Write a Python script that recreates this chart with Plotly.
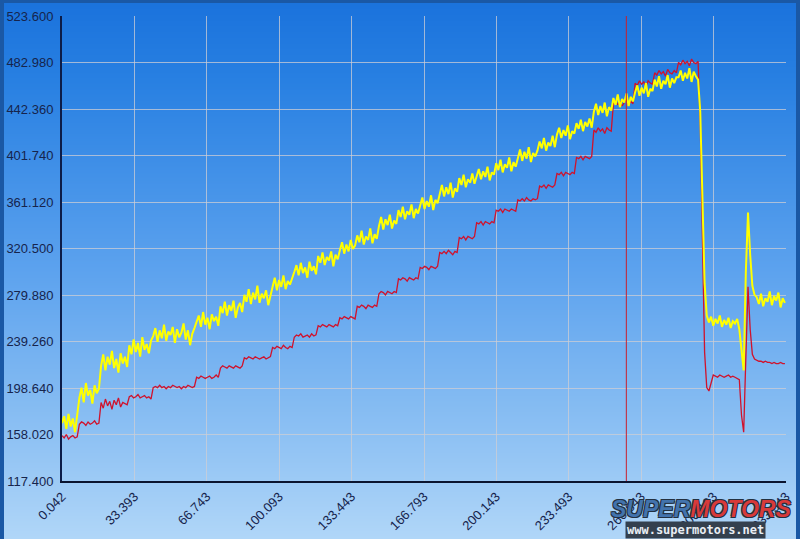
import base64
import struct
import zlib

import numpy as np
import plotly.graph_objects as go

# ---------------- data ----------------
yellow_values = [
    168, 174, 163, 176, 165, 172, 160, 175,
    190, 199, 186, 203, 192, 197, 185, 201, 194, 198,
    218, 228, 214, 226, 219, 231, 216, 224, 212, 229, 220, 226, 217,
    236, 228, 241, 230, 238, 226, 243, 232, 237, 229, 240,
    244, 251, 239, 249, 242, 254, 240, 248, 245, 252, 238, 250, 243, 247, 255, 241, 249, 236, 246, 251,
    256, 262, 252, 265, 254, 260, 250, 263, 257, 261, 253,
    270, 264, 274, 262, 271, 266, 275, 260, 269, 273, 265,
    280, 274, 285, 272, 282, 276, 288, 273, 281, 277, 284, 271, 279,
    288, 295, 284, 293, 287, 297, 285, 292, 289, 294,
    300, 306, 297, 308, 299, 304, 295, 309, 301, 305, 298,
    314, 308, 317, 306, 313, 310, 318, 305, 315, 311,
    319, 326, 316, 324, 318, 328, 320, 323,
    332, 326, 336, 324, 331, 328, 338, 325, 333, 329,
    340, 348, 337, 346, 341, 350, 338, 345, 342,
    354, 348, 357, 346, 353, 350, 359, 347, 355, 351,
    358, 365, 355, 362, 357, 367, 354, 363, 360,
    369, 376, 366, 374, 368, 378, 365, 373, 370,
    382, 376, 385, 374, 381, 378, 386, 377,
    384, 390, 381, 388, 383, 392, 380, 387, 385,
    395, 389, 398, 387, 394, 391, 400, 388, 396, 392,
    400, 407, 397, 405, 399, 409, 396, 404, 401, 406,
    414, 408, 417, 406, 413, 410, 419, 409,
    420, 426, 417, 424, 419, 428, 416, 423, 421,
    430, 425, 433, 423, 431, 427, 434, 426,
    440, 447, 437, 445, 439, 448, 436, 444, 441,
    452, 446, 455, 444, 451, 448, 456, 445, 453, 449,
    457, 463, 454, 461, 456, 465, 453, 460, 458,
    468, 462, 471, 460, 467, 464, 472, 461, 469, 465, 470,
    470, 476, 467, 474, 469, 478, 466, 475, 471, 468,
    440, 360, 290, 262,
    256, 261, 253, 259, 255, 262, 252, 258, 254, 260, 251, 257, 255, 259,
    250, 232, 214, 300, 352, 315, 288, 280,
    278, 272, 281, 270, 277, 274, 283, 271, 279, 275, 282, 269, 277, 273,
]

red_values = [
    157, 155, 158, 154, 156, 157, 155, 156,
    167, 169, 168, 166, 169, 167, 168, 170, 167, 168,
    186, 181, 189, 183, 187, 180, 188, 184, 190, 182, 186, 185, 184,
    191, 192, 190, 191, 193, 190, 191, 192, 190, 191, 189,
    199, 200, 199, 201, 199, 200, 198, 200, 199, 201, 200, 199, 200, 198, 200, 199, 201, 200, 199, 200,
    208, 207, 209, 208, 207, 208, 209, 207, 208, 210, 208,
    216, 218, 217, 216, 218, 217, 216, 218, 217, 216, 218,
    225, 224, 226, 225, 224, 226, 225, 224, 225, 226, 224, 225, 226,
    234, 233, 235, 234, 233, 236, 234, 233, 235, 234,
    243, 245, 244, 246, 243, 244, 245, 243, 246, 244, 245,
    253, 252, 254, 253, 252, 254, 253, 252, 254, 253,
    260, 259, 261, 260, 259, 261, 260, 259,
    270, 269, 271, 270, 268, 271, 270, 269, 271, 270,
    281, 283, 282, 280, 283, 282, 281, 283, 282,
    294, 293, 295, 294, 292, 295, 294, 293, 295, 294,
    304, 303, 305, 304, 302, 305, 304, 303, 305,
    317, 316, 318, 316, 319, 317, 315, 318, 317,
    330, 329, 331, 328, 331, 330, 329, 331,
    343, 342, 344, 341, 344, 343, 342, 344, 343,
    354, 353, 355, 352, 355, 354, 353, 355, 354, 353,
    363, 362, 364, 362, 365, 363, 362, 364, 363, 364,
    375, 374, 376, 373, 376, 375, 374, 376,
    386, 385, 387, 384, 387, 386, 385, 387, 386,
    400, 399, 401, 398, 401, 400, 399, 401,
    424, 422, 426, 423, 425, 421, 426, 424, 423,
    447, 450, 446, 449, 445, 448, 451, 446, 449, 447,
    465, 463, 467, 464, 466, 462, 467, 465, 464,
    474, 472, 476, 473, 475, 471, 477, 474, 473, 476, 474,
    483, 481, 485, 482, 484, 480, 486, 483, 482, 484,
    430, 330, 230, 199,
    196, 203, 210, 209, 208, 210, 209, 208, 209, 210, 208, 209, 208, 207,
    206, 175, 160, 225, 287, 250, 228, 224,
    223, 222, 222, 221, 222, 221, 221, 220, 221, 220, 220, 221, 220, 220,
]

sample_time = np.arange(len(yellow_values)) * 1.0 + 0.042
cursor_time = 260.0

x_tick_values = [0.042, 33.393, 66.743, 100.093, 133.443, 166.793,
                 200.143, 233.493, 266.843, 300.193, 333.543]
x_tick_labels = ["0.042", "33.393", "66.743", "100.093", "133.443", "166.793",
                 "200.143", "233.493", "266.843", "300.193", "333.543"]
y_tick_values = [117.4, 158.02, 198.64, 239.26, 279.88, 320.5,
                 361.12, 401.74, 442.36, 482.98, 523.6]
y_tick_labels = ["117.400", "158.020", "198.640", "239.260", "279.880", "320.500",
                 "361.120", "401.740", "442.360", "482.980", "523.600"]

# ---------------- background gradient image ----------------
W, H = 800, 539
stops = [(0.0, (26, 114, 220)), (0.15, (40, 128, 226)), (0.5, (92, 162, 238)),
         (0.8, (140, 192, 243)), (1.0, (176, 214, 248))]


def grad(f):
    for (f0, c0), (f1, c1) in zip(stops[:-1], stops[1:]):
        if f <= f1:
            t = (f - f0) / (f1 - f0)
            return tuple(int(round(a + (b - a) * t)) for a, b in zip(c0, c1))
    return stops[-1][1]


border = bytes((26, 88, 165))
raw = bytearray()
for r in range(H):
    c = bytes(grad(r / (H - 1)))
    raw.append(0)
    if r < 3:
        raw += border * W
    else:
        raw += border * 4 + c * (W - 8) + border * 4


def chunk(tag, data):
    return struct.pack(">I", len(data)) + tag + data + struct.pack(">I", zlib.crc32(tag + data) & 0xffffffff)


png = (b"\x89PNG\r\n\x1a\n" + chunk(b"IHDR", struct.pack(">IIBBBBB", W, H, 8, 2, 0, 0, 0))
       + chunk(b"IDAT", zlib.compress(bytes(raw), 9)) + chunk(b"IEND", b""))
bg_uri = "data:image/png;base64," + base64.b64encode(png).decode()

ML, MR, MT, MB = 62, 14, 16, 58
PW, PH = W - ML - MR, H - MT - MB

# ---------------- figure ----------------
fig = go.Figure()
fig.add_trace(go.Scatter(x=sample_time, y=red_values, mode="lines",
                         line=dict(color="#d0122c", width=1.3), showlegend=False))
fig.add_trace(go.Scatter(x=sample_time, y=yellow_values, mode="lines",
                         line=dict(color="#ffff00", width=2.0), showlegend=False))

fig.add_vline(x=cursor_time, line=dict(color="#c8202e", width=1))

fig.add_layout_image(dict(source=bg_uri, xref="paper", yref="paper",
                          x=-ML / PW, y=1 + MT / PH, sizex=W / PW, sizey=H / PH,
                          xanchor="left", yanchor="top", sizing="stretch", layer="below"))

fig.add_annotation(xref="paper", yref="paper", x=(701 - ML) / PW, y=1 - (509 - MT) / PH,
                   xanchor="center", yanchor="middle",
                   text="<b><i><span style='color:#4273ad'>SUPER</span>"
                        "<span style='color:#d83a3a'>MOTORS</span></i></b>",
                   showarrow=False,
                   font=dict(family="Liberation Sans", size=23,
                             shadow="1px 1px 0 #233040, -1px -1px 0 #233040, 1px -1px 0 #233040, -1px 1px 0 #233040"))
fig.add_annotation(xref="paper", yref="paper", x=(695 - ML) / PW, y=1 - (530 - MT) / PH,
                   xanchor="center", yanchor="middle",
                   text="<b>www.supermotors.net</b>", showarrow=False,
                   bgcolor="#34404e", borderpad=1,
                   font=dict(family="DejaVu Sans Mono", size=12, color="#e8eef4"))

fig.update_layout(
    width=W, height=H,
    margin=dict(l=ML, r=MR, t=MT, b=MB, autoexpand=False),
    paper_bgcolor="#5aa0ee", plot_bgcolor="rgba(0,0,0,0)",
    font=dict(family="Liberation Sans", size=13, color="#16244c"),
    xaxis=dict(range=[0.042, 333.543], tickvals=x_tick_values, ticktext=x_tick_labels,
               tickangle=-45, showgrid=True, gridcolor="rgba(205,205,212,0.75)", gridwidth=1,
               showline=True, linecolor="#0a1430", linewidth=2, zeroline=False,
               ticks="", ticklabelstandoff=1, automargin=False),
    yaxis=dict(range=[117.4, 523.6], tickvals=y_tick_values, ticktext=y_tick_labels,
               showgrid=True, gridcolor="rgba(205,205,212,0.75)", gridwidth=1,
               showline=True, linecolor="#0c1c48", linewidth=2, zeroline=False,
               ticks="", ticklabelstandoff=4, automargin=False),
)

fig.write_html("out.html", config={"displayModeBar": False},
               post_script="document.body.style.margin='0';document.body.style.padding='0';"
                           "document.body.style.overflow='hidden';")
